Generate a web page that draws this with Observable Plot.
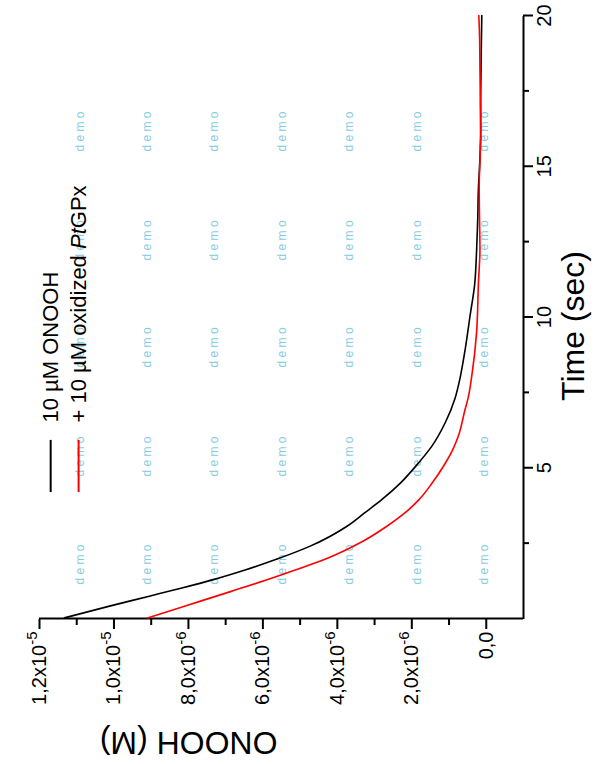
<!DOCTYPE html>
<html>
<head>
<meta charset="utf-8">
<script src="https://cdn.jsdelivr.net/npm/d3@7"></script>
<script src="https://cdn.jsdelivr.net/npm/@observablehq/plot@0.6"></script>
<style>
html, body { margin: 0; padding: 0; background: #fff; overflow: hidden; }
#wrap { position: relative; width: 599px; height: 764px; overflow: hidden; background: #fff; }
#wrap svg { position: absolute; left: 0; top: 0; width: 764px !important; height: 599px !important; max-width: none !important; transform-origin: 0 0; transform: translate(0px, 764px) rotate(-90deg); }
</style>
</head>
<body>
<div id="wrap"></div>
<script>
// ---- data (values in units of 1e-6 M) ----
const seriesNames = ["10 µM ONOOH", "+ 10 µM oxidized PtGPx"];
const seriesColors = ["#000000", "#ff0000"];

const blackTime  = [0.02, 0.41, 0.74, 1.02, 1.29, 1.6, 1.98, 2.4, 3.06, 3.5, 3.95, 4.5, 5.16, 5.7, 6.5, 7.3, 8.0, 8.9, 10.0, 11.1, 12.2, 13.2, 14.3, 15.0, 16.1, 17.0, 18.3, 19.2, 20.0];
const blackValue = [11.33, 10.12, 9.05, 8.15, 7.33, 6.5, 5.6, 4.73, 3.74, 3.27, 2.80, 2.30, 1.82, 1.47, 1.1, 0.84, 0.70, 0.57, 0.44, 0.31, 0.26, 0.23, 0.21, 0.18, 0.15, 0.15, 0.14, 0.13, 0.12];

const redTime  = [0.02, 0.45, 0.9, 1.3, 1.6, 1.98, 2.51, 3.06, 3.56, 3.95, 4.5, 5.05, 5.6, 6.05, 6.93, 7.3, 8.04, 9.49, 11.14, 12.24, 13.2, 14.3, 15.5, 16.1, 17.2, 18.3, 19.3, 20.0];
const redValue = [9.1, 8.0, 6.85, 5.85, 5.15, 4.3, 3.39, 2.67, 2.13, 1.80, 1.45, 1.15, 0.90, 0.75, 0.57, 0.49, 0.39, 0.26, 0.21, 0.17, 0.18, 0.19, 0.16, 0.15, 0.16, 0.17, 0.18, 0.2];

const timeDomain = [0, 20];
const valueDomain = [-1, 12];
const timeTicks = [5, 10, 15, 20];
const timeMinorTicks = [2.5, 7.5, 12.5, 17.5];
const valueTicks = [0, 2, 4, 6, 8, 10, 12];
const valueMinorTicks = [1, 3, 5, 7, 9, 11];
const valueTickMantissa = ["0,0", "2,0", "4,0", "6,0", "8,0", "1,0", "1,2"];
const valueTickExponent = ["", "-6", "-6", "-6", "-6", "-5", "-5"];

const xLabel = "Time (sec)";
const yLabel = "ONOOH (M)";

const demoTimes = [1.79, 5.37, 8.99, 12.54, 16.15];
const demoValues = [0.05, 1.85, 3.67, 5.47, 7.30, 9.12, 10.92];

// legend layout (chart units)
const legendLineT = [4.21, 5.94];
const legendTextT = 6.5;
const legendRowV = [11.7, 10.95];

// ---- build ----
const blackData = blackTime.map((t, i) => ({t, v: blackValue[i]}));
const redData = redTime.map((t, i) => ({t, v: redValue[i]}));
const demoData = d3.cross(demoTimes, demoValues).map(([t, v]) => ({t, v}));
const legendData = seriesNames.map((name, i) => ({name, color: seriesColors[i], v: legendRowV[i]}));

const font = "'Liberation Sans', Arial, sans-serif";

const chart = Plot.plot({
  width: 764,
  height: 599,
  marginLeft: 145,
  marginRight: 16,
  marginTop: 39,
  marginBottom: 76,
  style: {fontFamily: font, fontSize: "20px", color: "#000", background: "#fff"},
  x: {domain: timeDomain},
  y: {domain: valueDomain},
  marks: [
    Plot.text(demoData, {x: "t", y: "v", text: () => "d e m o", fill: "#86cde2", fontSize: 12, fontFamily: font}),
    Plot.axisX({ticks: timeTicks, tickSize: 10, tickPadding: 3, strokeWidth: 2, fontSize: 20, label: null, tickFormat: d => String(d)}),
    Plot.axisX({ticks: timeMinorTicks, tickSize: 6, strokeWidth: 2, text: null, label: null}),
    Plot.axisY({ticks: valueTicks, tickSize: 10, tickPadding: 3, strokeWidth: 2, fontSize: 20, label: null,
      tickFormat: d => { const i = valueTicks.indexOf(d); return valueTickExponent[i] ? valueTickMantissa[i] + "x10^" + valueTickExponent[i] : valueTickMantissa[i]; }}),
    Plot.axisY({ticks: valueMinorTicks, tickSize: 6, strokeWidth: 2, text: null, label: null}),
    Plot.ruleX([timeDomain[0]], {strokeWidth: 2}),
    Plot.ruleY([valueDomain[0]], {strokeWidth: 2}),
    Plot.line(blackData, {x: "t", y: "v", stroke: seriesColors[0], strokeWidth: 1.6, curve: "monotone-x"}),
    Plot.line(redData, {x: "t", y: "v", stroke: seriesColors[1], strokeWidth: 1.6, curve: "monotone-x"}),
    Plot.ruleY(legendData, {y: "v", x1: legendLineT[0], x2: legendLineT[1], stroke: "color", strokeWidth: 2}),
    Plot.text(legendData, {y: "v", x: legendTextT, text: "name", textAnchor: "start", lineAnchor: "middle", fontSize: 22, fill: "#000", fontFamily: font}),
    Plot.text([yLabel], {frameAnchor: "left", rotate: -90, dx: -124, dy: -4, fontSize: 32, lineAnchor: "middle", fontFamily: font, fill: "#000"}),
    Plot.text([xLabel], {frameAnchor: "bottom", dx: -9, dy: 50, fontSize: 32, lineAnchor: "middle", fontFamily: font, fill: "#000"})
  ]
});

chart.style.maxWidth = "none";
chart.style.width = "764px";
chart.style.height = "599px";

// superscripts on value tick labels, italic species prefix in legend
chart.querySelectorAll("text").forEach(el => {
  const s = el.textContent;
  if (s.includes("x10^")) {
    const [base, exp] = s.split("^");
    el.textContent = base;
    const sup = document.createElementNS("http://www.w3.org/2000/svg", "tspan");
    sup.setAttribute("font-size", "15");
    sup.setAttribute("dy", "-9");
    sup.textContent = exp;
    el.appendChild(sup);
  } else if (s.includes("PtGPx")) {
    const idx = s.indexOf("PtGPx");
    el.textContent = s.slice(0, idx);
    const it = document.createElementNS("http://www.w3.org/2000/svg", "tspan");
    it.setAttribute("font-style", "italic");
    it.textContent = "Pt";
    el.appendChild(it);
    const rest = document.createElementNS("http://www.w3.org/2000/svg", "tspan");
    rest.textContent = "GPx";
    el.appendChild(rest);
  }
});

document.getElementById("wrap").appendChild(chart);
</script>
</body>
</html>
